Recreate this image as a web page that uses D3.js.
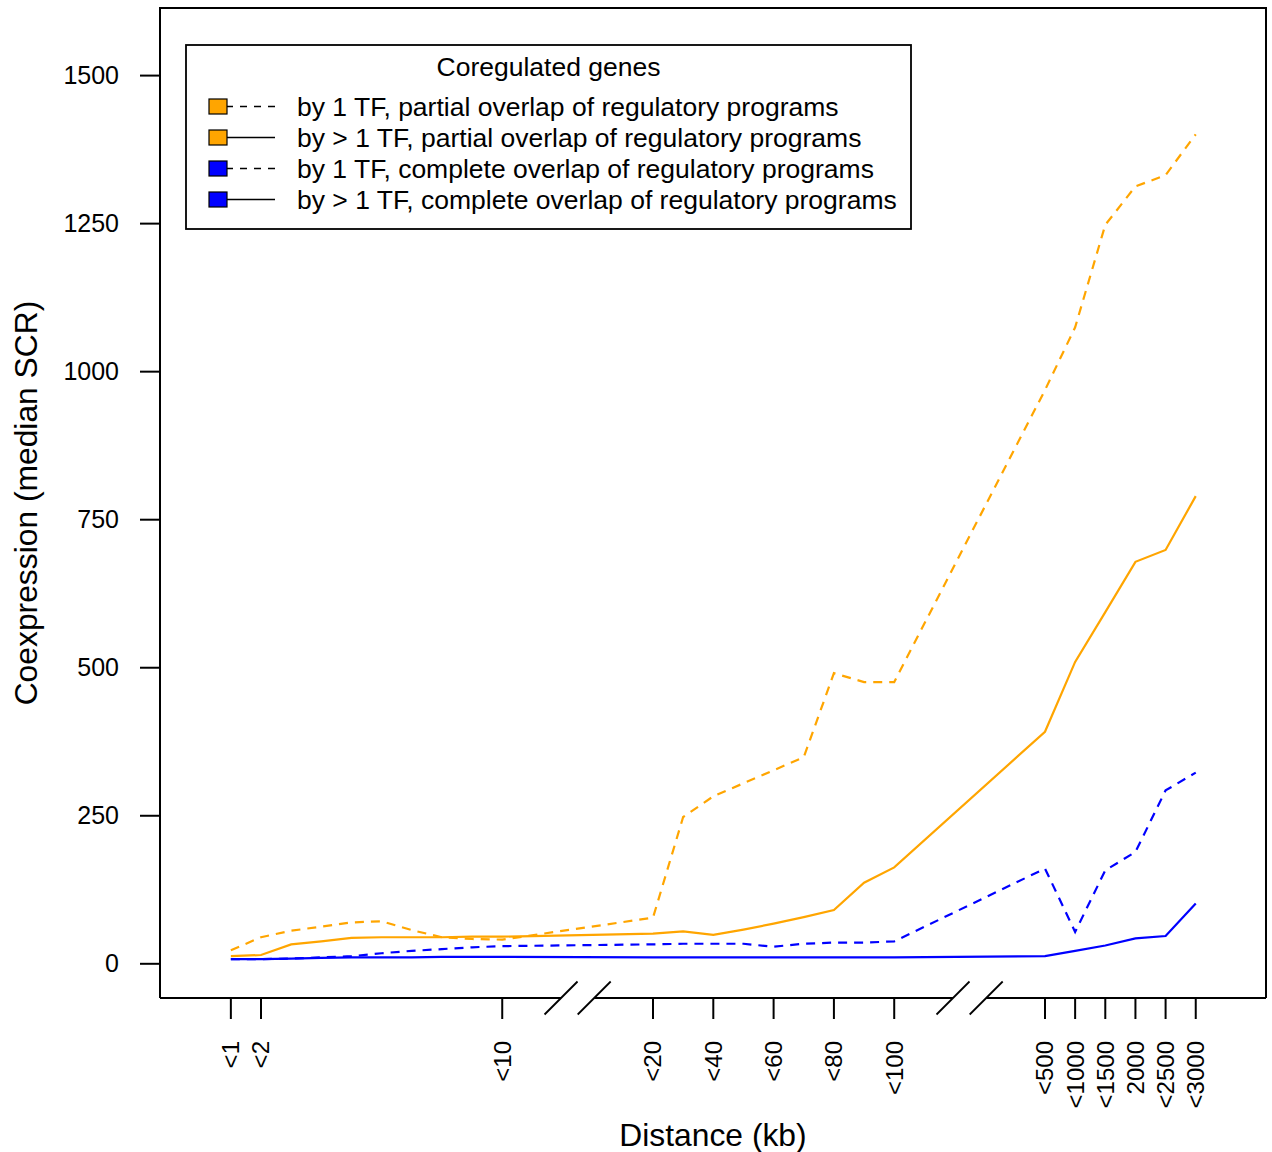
<!DOCTYPE html>
<html>
<head>
<meta charset="utf-8">
<script src="https://cdn.jsdelivr.net/npm/d3@7"></script>
<style>
  body { margin: 0; background: #fff; }
  text { font-family: 'Liberation Sans', Arial, Helvetica, sans-serif; fill: #000; }
</style>
</head>
<body>
<script>
const width = 1272;
const height = 1152;

// distance bins (kb) and their slot on the broken x axis
const categories = ['<1', '<2', '<3', '<4', '<5', '<6', '<7', '<8', '<9', '<10',
  '<20', '<30', '<40', '<50', '<60', '<70', '<80', '<90', '<100',
  '<500', '<1000', '<1500', '2000', '<2500', '<3000'];
const slots = [0, 1, 2, 3, 4, 5, 6, 7, 8, 9,
  14, 15, 16, 17, 18, 19, 20, 21, 22,
  27, 28, 29, 30, 31, 32];

const tickLabels = ['<1', '<2', '<10', '<20', '<40', '<60', '<80', '<100',
  '<500', '<1000', '<1500', '2000', '<2500', '<3000'];
const yTicks = [0, 250, 500, 750, 1000, 1250, 1500];
const breaks = [[10.95, 12.05], [23.95, 25.05]];

// median SCR
const partialOneTF = [22, 44, 55, 62, 69, 71, 56, 44, 41, 40,
  77, 247, 282, 304, 326, 348, 490, 475, 475,
  968, 1074, 1247, 1312, 1331, 1400];
const partialMultiTF = [12, 14, 32, 37, 43, 44, 44, 44, 45, 45,
  50, 54, 48, 57, 67, 78, 90, 136, 162,
  391, 509, 593, 678, 698, 789];
const completeOneTF = [7, 7, 8, 10, 12, 17, 21, 24, 27, 29,
  32, 33, 33, 33, 28, 33, 35, 35, 37,
  160, 53, 157, 188, 292, 322];
const completeMultiTF = [7, 7, 8, 9, 10, 10, 10, 11, 11, 11,
  10, 10, 10, 10, 10, 10, 10, 10, 10,
  12, 21, 30, 42, 46, 101];

const legendTitle = 'Coregulated genes';
const seriesNames = [
  'by 1 TF, partial overlap of regulatory programs',
  'by > 1 TF, partial overlap of regulatory programs',
  'by 1 TF, complete overlap of regulatory programs',
  'by > 1 TF, complete overlap of regulatory programs'
];
const seriesValues = [partialOneTF, partialMultiTF, completeOneTF, completeMultiTF];
const seriesColors = ['#FFA500', '#FFA500', '#0000FF', '#0000FF'];
const seriesDashed = [true, false, true, false];

const box = {left: 160, right: 1266, top: 8, bottom: 998};

const svg = d3.select('body').append('svg')
  .attr('width', width)
  .attr('height', height);

const x = d3.scaleLinear()
  .domain([-2.35, 34.33])
  .range([box.left, box.right]);

const y = d3.scaleLinear()
  .domain([-58.6, 1613.3])
  .range([box.bottom, box.top]);

// lines
const line = d3.line()
  .x((d, i) => x(slots[i]))
  .y(d => y(d));

seriesValues.forEach((vals, k) => {
  svg.append('path')
    .datum(vals)
    .attr('fill', 'none')
    .attr('stroke', seriesColors[k])
    .attr('stroke-width', 2.2)
    .attr('stroke-dasharray', seriesDashed[k] ? '9,7' : null)
    .attr('d', line);
});

// frame, with gaps in the bottom edge where the axis is broken
const frame = svg.append('g')
  .attr('stroke', '#000')
  .attr('stroke-width', 2)
  .attr('fill', 'none');

frame.append('path')
  .attr('d', `M${box.left},${box.bottom}V${box.top}H${box.right}V${box.bottom}`);

let segStart = box.left;
breaks.forEach(b => {
  frame.append('line')
    .attr('x1', segStart).attr('x2', x(b[0]))
    .attr('y1', box.bottom).attr('y2', box.bottom);
  segStart = x(b[1]);
});
frame.append('line')
  .attr('x1', segStart).attr('x2', box.right)
  .attr('y1', box.bottom).attr('y2', box.bottom);

// break marks
breaks.forEach(b => {
  b.forEach(v => {
    frame.append('line')
      .attr('x1', x(v) - 16.5).attr('y1', box.bottom + 16.5)
      .attr('x2', x(v) + 16.5).attr('y2', box.bottom - 16.5)
      .attr('stroke-width', 1.8);
  });
});

// y axis
const yAxis = svg.append('g')
  .attr('transform', `translate(${box.left},0)`)
  .call(d3.axisLeft(y).tickValues(yTicks).tickFormat(d3.format('d'))
    .tickSize(20).tickPadding(21));
yAxis.select('.domain').remove();
yAxis.selectAll('line').attr('stroke-width', 2);
yAxis.selectAll('text')
  .attr('font-size', 25)
  .attr('font-family', "'Liberation Sans', Arial, sans-serif");

// x axis ticks and rotated labels
const tickSlots = tickLabels.map(t => slots[categories.indexOf(t)]);
const xAxis = svg.append('g');
xAxis.selectAll('line')
  .data(tickSlots)
  .enter().append('line')
    .attr('x1', d => x(d)).attr('x2', d => x(d))
    .attr('y1', box.bottom).attr('y2', box.bottom + 21)
    .attr('stroke', '#000')
    .attr('stroke-width', 2);
xAxis.selectAll('text')
  .data(tickLabels)
  .enter().append('text')
    .attr('transform', (d, i) => `translate(${x(tickSlots[i])},1041) rotate(-90)`)
    .attr('dy', '0.35em')
    .attr('text-anchor', 'end')
    .attr('font-size', 24)
    .text(d => d);

// axis titles
svg.append('text')
  .attr('x', (box.left + box.right) / 2)
  .attr('y', 1146)
  .attr('text-anchor', 'middle')
  .attr('font-size', 31.8)
  .text('Distance (kb)');

svg.append('text')
  .attr('transform', `translate(37,${(box.top + box.bottom) / 2}) rotate(-90)`)
  .attr('text-anchor', 'middle')
  .attr('font-size', 31.8)
  .text('Coexpression (median SCR)');

// legend
const legend = svg.append('g');
legend.append('rect')
  .attr('x', 186).attr('y', 45)
  .attr('width', 725).attr('height', 184)
  .attr('fill', '#fff')
  .attr('stroke', '#000')
  .attr('stroke-width', 1.8);

legend.append('text')
  .attr('x', 548.5).attr('y', 76)
  .attr('text-anchor', 'middle')
  .attr('font-size', 26.5)
  .text(legendTitle);

const row = legend.selectAll('g.row')
  .data(seriesNames)
  .enter().append('g')
    .attr('class', 'row')
    .attr('transform', (d, i) => `translate(0,${106.5 + i * 31})`);

row.append('line')
  .attr('x1', 226).attr('x2', 275)
  .attr('y1', 0).attr('y2', 0)
  .attr('stroke', '#000')
  .attr('stroke-width', 1.5)
  .attr('stroke-dasharray', (d, i) => seriesDashed[i] ? '7,7' : null);

row.append('rect')
  .attr('x', 209).attr('y', -7.5)
  .attr('width', 18).attr('height', 15)
  .attr('fill', (d, i) => seriesColors[i])
  .attr('stroke', '#000')
  .attr('stroke-width', 1.2);

row.append('text')
  .attr('x', 297).attr('y', 9.5)
  .attr('font-size', 26.5)
  .text(d => d);
</script>
</body>
</html>
